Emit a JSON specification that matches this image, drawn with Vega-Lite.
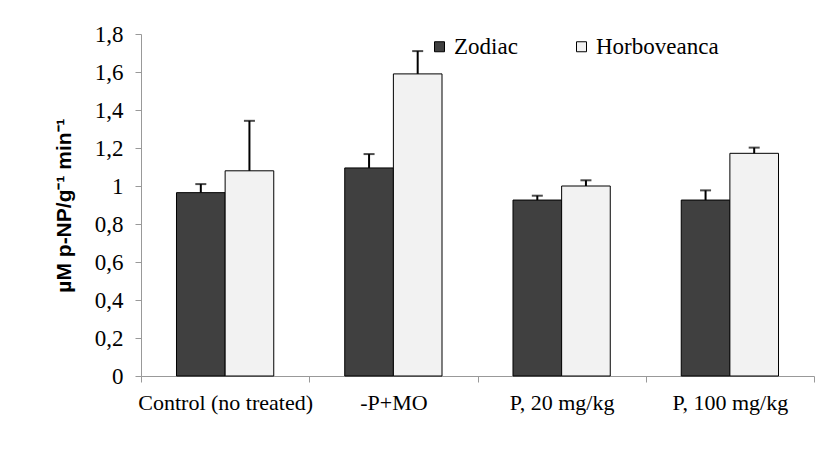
{
  "$schema": "https://vega.github.io/schema/vega-lite/v6.json",
  "autosize": "none",
  "width": 673,
  "height": 342,
  "padding": {"left": 141, "top": 34, "right": 7, "bottom": 86},
  "background": "white",
  "config": {
    "view": {"stroke": null},
    "font": "Liberation Serif",
    "axis": {"labelFont": "Liberation Serif", "labelFontSize": 23, "labelColor": "black", "domainColor": "#999999", "tickColor": "#999999", "tickSize": 6, "grid": false, "labelLimit": 0},
    "axisY": {"labelOverlap": false, "labelBound": false, "labelPadding": 12, "titleFont": "Liberation Sans", "titleFontSize": 21, "titleFontWeight": "bold", "titleColor": "black", "titlePadding": 20},
    "legend": {"labelFont": "Liberation Serif", "labelFontSize": 23, "labelColor": "black"}
  },
  "data": {"values": [
    {"group": "Control (no treated)", "variety": "Zodiac", "value": 0.965, "upper": 1.01},
    {"group": "Control (no treated)", "variety": "Horboveanca", "value": 1.08, "upper": 1.343},
    {"group": "-P+MO", "variety": "Zodiac", "value": 1.095, "upper": 1.168},
    {"group": "-P+MO", "variety": "Horboveanca", "value": 1.59, "upper": 1.71},
    {"group": "P, 20 mg/kg", "variety": "Zodiac", "value": 0.926, "upper": 0.949},
    {"group": "P, 20 mg/kg", "variety": "Horboveanca", "value": 1.0, "upper": 1.03},
    {"group": "P, 100 mg/kg", "variety": "Zodiac", "value": 0.926, "upper": 0.977},
    {"group": "P, 100 mg/kg", "variety": "Horboveanca", "value": 1.172, "upper": 1.202}
  ]},
  "encoding": {
    "x": {"field": "group", "type": "nominal", "sort": null,
      "scale": {"paddingInner": 0, "paddingOuter": 0},
      "axis": {"title": null, "labelAngle": 0, "tickBand": "extent", "labelPadding": 10, "labelFontSize": 22, "labelOverlap": false}},
    "xOffset": {"field": "variety", "type": "nominal", "sort": ["Zodiac", "Horboveanca"],
      "scale": {"paddingInner": 0, "paddingOuter": 0.73}}
  },
  "layer": [
    {
      "mark": {"type": "bar", "stroke": "black", "strokeWidth": 1},
      "encoding": {
        "y": {"field": "value", "type": "quantitative",
          "scale": {"domain": [0, 1.8], "nice": false},
          "axis": {"title": "µM p-NP/g⁻¹ min⁻¹", "values": [0, 0.2, 0.4, 0.6, 0.8, 1, 1.2, 1.4, 1.6, 1.8],
            "format": "~f", "labelExpr": "replace(datum.label, '.', ',')"}},
        "fill": {"field": "variety", "type": "nominal", "sort": ["Zodiac", "Horboveanca"],
          "scale": {"domain": ["Zodiac", "Horboveanca"], "range": ["#404040", "#f2f2f2"]},
          "legend": {"title": null, "orient": "none", "direction": "horizontal", "legendX": 287, "legendY": 1,
            "symbolType": "square", "symbolSize": 100, "symbolStrokeColor": "black", "symbolStrokeWidth": 1,
            "columnPadding": 52, "labelOffset": 3}}
      }
    },
    {
      "mark": {"type": "rule", "color": "black", "strokeWidth": 2},
      "encoding": {
        "y": {"field": "value", "type": "quantitative",
          "axis": {"title": "µM p-NP/g⁻¹ min⁻¹", "values": [0, 0.2, 0.4, 0.6, 0.8, 1, 1.2, 1.4, 1.6, 1.8],
            "format": "~f", "labelExpr": "replace(datum.label, '.', ',')"}},
        "y2": {"field": "upper"}
      }
    },
    {
      "mark": {"type": "tick", "color": "black", "thickness": 2, "size": 11},
      "encoding": {
        "y": {"field": "upper", "type": "quantitative",
          "axis": {"title": "µM p-NP/g⁻¹ min⁻¹", "values": [0, 0.2, 0.4, 0.6, 0.8, 1, 1.2, 1.4, 1.6, 1.8],
            "format": "~f", "labelExpr": "replace(datum.label, '.', ',')"}}
      }
    }
  ]
}
